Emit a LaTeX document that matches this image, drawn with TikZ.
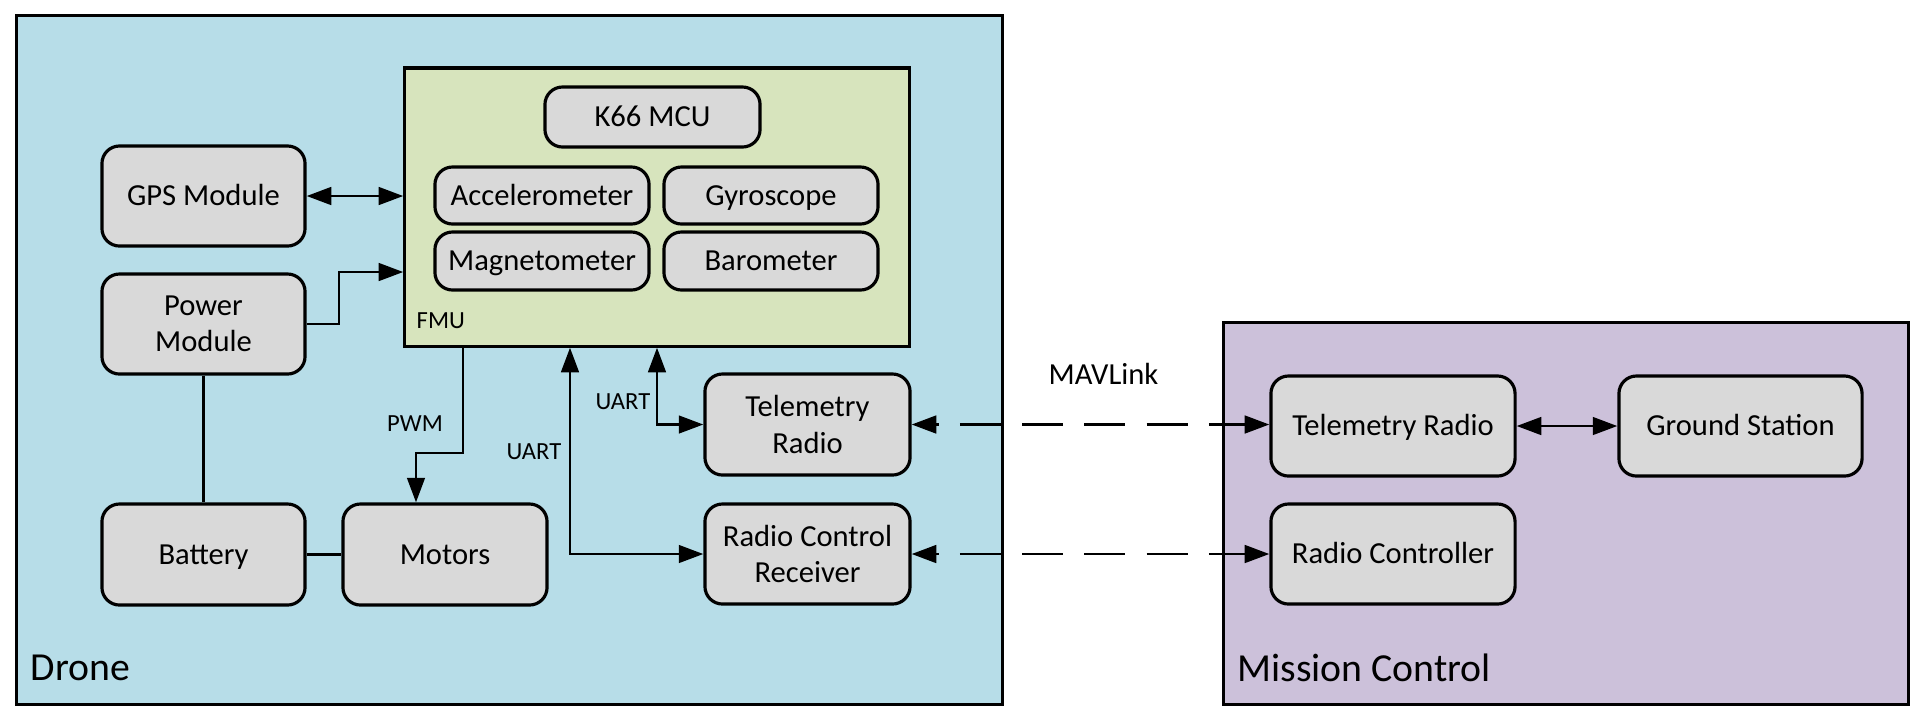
\documentclass[tikz,border=0pt]{standalone}
\usepackage{fontspec}
\setmainfont{Carlito}
\usetikzlibrary{arrows.meta}
\definecolor{dronefill}{HTML}{B7DDE8}
\definecolor{fmufill}{HTML}{D7E4BD}
\definecolor{mcfill}{HTML}{CCC1DA}
\definecolor{boxfill}{HTML}{D9D9D9}
\tikzset{
  container/.style={draw=black, line width=0.9pt, inner sep=0pt},
  blk/.style={draw=black, fill=boxfill, rounded corners=5pt, line width=0.9pt,
    inner sep=0pt, align=center, font=\fontsize{8.7}{10.3}\selectfont},
  one/.style={text height=5.6pt, text depth=0pt},
  conn/.style={line width=0.8pt},
  tip/.style={-{Triangle[length=7pt,width=5pt]}},
  dtip/.style={{Triangle[length=7pt,width=5pt]}-{Triangle[length=7pt,width=5pt]}},
  lbl/.style={inner sep=0pt, font=\fontsize{7}{8}\selectfont},
  biglbl/.style={inner sep=0pt, anchor=west, font=\fontsize{11.3}{13}\selectfont},
  dashline/.style={dash pattern=on 11.7pt off 6pt, dash phase=10.8pt},
}
\begin{document}
\begin{tikzpicture}[x=0.01cm, y=-0.01cm]
\useasboundingbox (0,0) rectangle (1924,720);
% containers
\node[container, fill=dronefill, minimum width=9.85cm, minimum height=6.88cm] (drone) at (509.5,360) {};
\node[container, fill=mcfill, minimum width=6.84cm, minimum height=3.81cm] (mc) at (1566,513.5) {};
\node[container, fill=fmufill, minimum width=5.04cm, minimum height=2.78cm] (fmu) at (657,207) {};
% FMU internals
\node[blk, one, minimum width=2.15cm, minimum height=0.60cm] (k66) at (652.5,117) {K66 MCU};
\node[blk, one, minimum width=2.14cm, minimum height=0.57cm] (acc) at (542,195.5) {Accelerometer};
\node[blk, one, minimum width=2.14cm, minimum height=0.57cm] (gyr) at (771,195.5) {Gyroscope};
\node[blk, one, minimum width=2.14cm, minimum height=0.58cm] (mag) at (542,261) {Magnetometer};
\node[blk, one, minimum width=2.14cm, minimum height=0.58cm] (bar) at (771,261) {Barometer};
\node[lbl, anchor=west] (fmulbl) at (416,321) {FMU};
% drone blocks
\node[blk, one, minimum width=2.03cm, minimum height=1.00cm] (gps) at (203.5,196) {GPS Module};
\node[blk, minimum width=2.03cm, minimum height=1.00cm] (pwr) at (203.5,324) {Power\\Module};
\node[blk, one, minimum width=2.03cm, minimum height=1.01cm] (bat) at (203.5,554.5) {Battery};
\node[blk, one, minimum width=2.04cm, minimum height=1.01cm] (mot) at (445,554.5) {Motors};
\node[blk, minimum width=2.05cm, minimum height=1.01cm] (tel) at (807.5,424.5) {Telemetry\\Radio};
\node[blk, minimum width=2.05cm, minimum height=1.00cm] (rcr) at (807.5,554) {Radio Control\\Receiver};
% mission control blocks
\node[blk, one, minimum width=2.44cm, minimum height=1.00cm] (mtel) at (1393,426) {Telemetry Radio};
\node[blk, one, minimum width=2.43cm, minimum height=1.00cm] (gnd) at (1740.5,426) {Ground Station};
\node[blk, one, minimum width=2.44cm, minimum height=1.00cm] (rc) at (1393,554) {Radio Controller};
% container labels
\node[biglbl] (dronelbl) at (30,668) {Drone};
\node[biglbl] (mclbl) at (1237,668) {Mission Control};
% connector labels
\node[lbl] (pwmlbl) at (415,424) {PWM};
\node[lbl] (uart1) at (534,452) {UART};
\node[lbl] (uart2) at (623,402) {UART};
\node[inner sep=0pt, font=\fontsize{8.7}{10}\selectfont] (mav) at (1103.5,374) {MAVLink};
% helper coordinates
\coordinate (p1) at (339,272);
\coordinate (pw1) at (463,453);
\coordinate (pw2) at (416,453);
\coordinate (u1) at (570,554);
\coordinate (u2) at (657,424.5);
% connectors
\draw[conn, dtip] (gps.east) -- (gps.east -| fmu.west);
\draw[conn, tip] (pwr.east) -| (p1) -- (p1 -| fmu.west);
\draw[conn] (pwr.south) -- (bat.north);
\draw[conn] (bat.east) -- (mot.west);
\draw[conn, tip] (fmu.south -| pw1) -- (pw1) -- (pw2) -- (pw2 |- mot.north);
\draw[conn, dtip] (fmu.south -| u1) -- (u1) -- (u1 -| rcr.west);
\draw[conn, dtip] (fmu.south -| u2) -- (u2) -- (tel.west);
\draw[conn, dtip, dashline] (tel.east) -- (tel.east -| mtel.west);
\draw[conn, dtip, dashline] (rcr.east) -- (rcr.east -| rc.west);
\draw[conn, dtip] (mtel.east) -- (gnd.west);
\end{tikzpicture}
\end{document}
